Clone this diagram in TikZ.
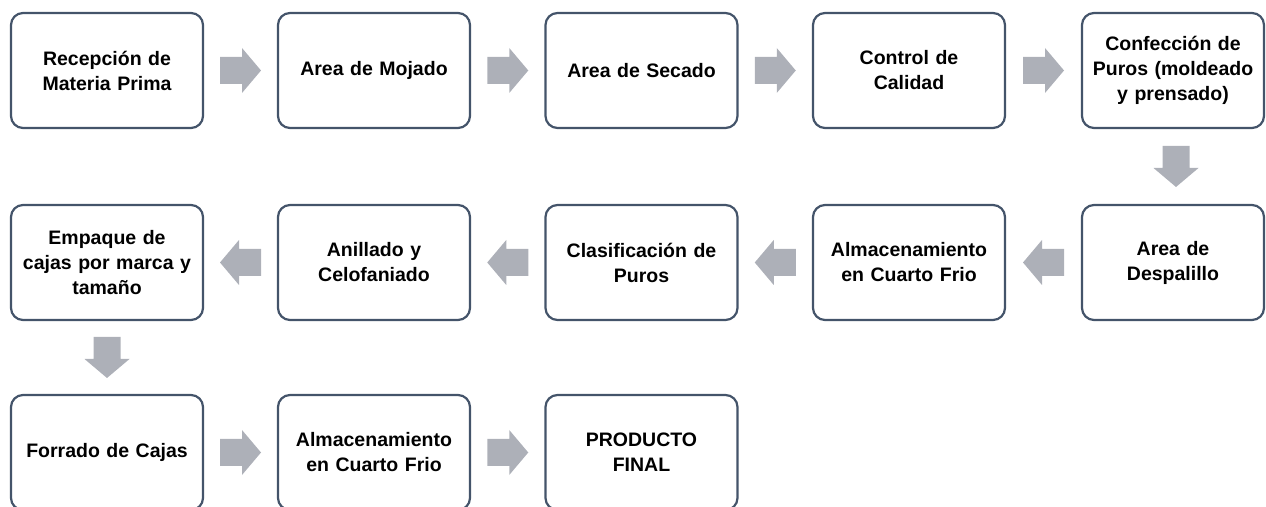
\documentclass[tikz,border=0pt]{standalone}
\usepackage{fontspec}
\setmainfont{Liberation Sans}
\usetikzlibrary{calc}
\definecolor{boxline}{HTML}{44546A}
\definecolor{arrowfill}{HTML}{ADB0B8}
\tikzset{
  stepbox/.style={draw=boxline, line width=2.2pt, rounded corners=12pt, fill=white,
    minimum width=192pt, minimum height=115pt, inner sep=0pt,
    align=center, text width=186pt,
    font=\fontsize{19.5pt}{25pt}\selectfont\bfseries},
  blockarrow/.pic={\fill[arrowfill] (-20.5,-13.5) -- (1.5,-13.5) -- (1.5,-22.5) -- (20.5,0) -- (1.5,22.5) -- (1.5,13.5) -- (-20.5,13.5) -- cycle;}
}
\begin{document}
\begin{tikzpicture}[x=1pt,y=1pt]
\useasboundingbox (0,0) rectangle (1266,506);
% row 1
\node[stepbox] (a1) at (107,435.5) {Recepción de\\Materia Prima};
\node[stepbox] (a2) at (374,435.5) {Area de Mojado};
\node[stepbox] (a3) at (641.5,435.5) {Area de Secado};
\node[stepbox] (a4) at (909,435.5) {Control de\\Calidad};
\node[stepbox, minimum width=182pt, text width=180pt] (a5) at (1173,435.5) {Confección de\\Puros (moldeado\\y prensado)};
% row 2
\node[stepbox, minimum width=182pt, text width=180pt] (b1) at (1173,243.5) {Area de\\Despalillo};
\node[stepbox] (b2) at (909,243.5) {Almacenamiento\\en Cuarto Frio};
\node[stepbox] (b3) at (641.5,243.5) {Clasificación de\\Puros};
\node[stepbox] (b4) at (374,243.5) {Anillado y\\Celofaniado};
\node[stepbox] (b5) at (107,243.5) {Empaque de\\cajas por marca y\\tamaño};
% row 3
\node[stepbox] (c1) at (107,53.5) {Forrado de Cajas};
\node[stepbox] (c2) at (374,53.5) {Almacenamiento\\en Cuarto Frio};
\node[stepbox] (c3) at (641.5,53.5) {PRODUCTO\\FINAL};
% arrows
\pic at ($(a1.east)!0.5!(a2.west)$) {blockarrow};
\pic at ($(a2.east)!0.5!(a3.west)$) {blockarrow};
\pic at ($(a3.east)!0.5!(a4.west)$) {blockarrow};
\pic at ($(a4.east)!0.5!(a5.west)$) {blockarrow};
\pic[rotate=-90] at ($(a5.south)!0.5!(b1.north)+(3,0)$) {blockarrow};
\pic[rotate=180] at ($(b1.west)!0.5!(b2.east)$) {blockarrow};
\pic[rotate=180] at ($(b2.west)!0.5!(b3.east)$) {blockarrow};
\pic[rotate=180] at ($(b3.west)!0.5!(b4.east)$) {blockarrow};
\pic[rotate=180] at ($(b4.west)!0.5!(b5.east)$) {blockarrow};
\pic[rotate=-90] at ($(b5.south)!0.5!(c1.north)$) {blockarrow};
\pic at ($(c1.east)!0.5!(c2.west)$) {blockarrow};
\pic at ($(c2.east)!0.5!(c3.west)$) {blockarrow};
\end{tikzpicture}
\end{document}
